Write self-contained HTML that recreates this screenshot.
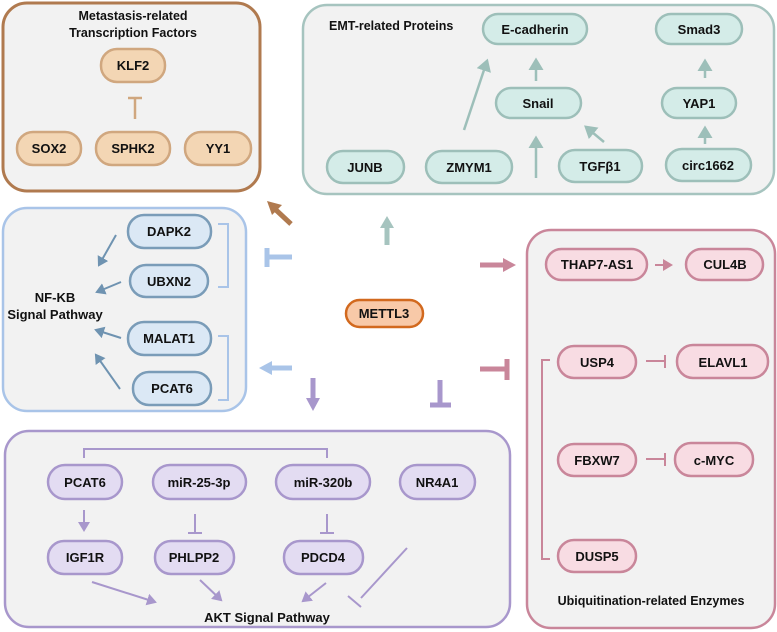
<!DOCTYPE html>
<html><head><meta charset="utf-8"><style>
html,body{margin:0;padding:0;background:#fff;}
svg{display:block;}
text{font-family:"Liberation Sans",sans-serif;font-weight:bold;fill:#111;}
</style></head><body>
<svg width="777" height="632" viewBox="0 0 777 632" xmlns="http://www.w3.org/2000/svg">
<defs>
<marker id="aT" markerWidth="6" markerHeight="6" refX="4" refY="3" orient="auto" markerUnits="strokeWidth"><path d="M0,0 L5,3 L0,6 z" fill="#9dbfb9"/></marker>
<marker id="aB" markerWidth="6" markerHeight="6" refX="4" refY="3" orient="auto" markerUnits="strokeWidth"><path d="M0,0 L5,3 L0,6 z" fill="#6f93b1"/></marker>
<marker id="aP" markerWidth="6" markerHeight="6" refX="4" refY="3" orient="auto" markerUnits="strokeWidth"><path d="M0,0 L5,3 L0,6 z" fill="#a897cc"/></marker>
<marker id="aR" markerWidth="6" markerHeight="6" refX="4" refY="3" orient="auto" markerUnits="strokeWidth"><path d="M0,0 L5,3 L0,6 z" fill="#c9869a"/></marker>
</defs>

<!-- Box 1 brown -->
<rect x="3" y="3" width="257" height="188" rx="24" fill="#f2f2f2" stroke="#b07a4f" stroke-width="3"/>
<text x="133" y="20" font-size="12.5" text-anchor="middle">Metastasis-related</text>
<text x="133" y="37" font-size="12.5" text-anchor="middle">Transcription Factors</text>
<g fill="#f3d6b4" stroke="#d0a77f" stroke-width="2.5">
<rect x="101" y="49" width="64" height="33" rx="16"/>
<rect x="17" y="132" width="64" height="33" rx="16"/>
<rect x="96" y="132" width="74" height="33" rx="16"/>
<rect x="185" y="132" width="66" height="33" rx="16"/>
</g>
<g font-size="13" text-anchor="middle">
<text x="133" y="70">KLF2</text><text x="49" y="153">SOX2</text><text x="133" y="153">SPHK2</text><text x="218" y="153">YY1</text>
</g>
<path d="M135,98 V119 M128,98 H142" stroke="#d0a77f" stroke-width="2.5" fill="none"/>

<!-- Box 2 teal -->
<rect x="303" y="5" width="471" height="189" rx="24" fill="#f2f2f2" stroke="#a6c4bf" stroke-width="2.5"/>
<text x="329" y="30" font-size="12.5">EMT-related Proteins</text>
<g fill="#d4ece8" stroke="#9dbfb9" stroke-width="2.5">
<rect x="483" y="14" width="104" height="30" rx="15"/>
<rect x="656" y="14" width="86" height="30" rx="15"/>
<rect x="496" y="88" width="85" height="30" rx="15"/>
<rect x="662" y="88" width="74" height="30" rx="15"/>
<rect x="327" y="151" width="77" height="32" rx="16"/>
<rect x="426" y="151" width="86" height="32" rx="16"/>
<rect x="559" y="150" width="83" height="32" rx="16"/>
<rect x="666" y="149" width="85" height="32" rx="16"/>
</g>
<g font-size="13" text-anchor="middle">
<text x="535" y="34">E-cadherin</text><text x="699" y="34">Smad3</text><text x="538" y="108">Snail</text><text x="699" y="108">YAP1</text>
<text x="365" y="172">JUNB</text><text x="469" y="172">ZMYM1</text><text x="600" y="171">TGFβ1</text><text x="708" y="170">circ1662</text>
</g>
<g stroke="#9dbfb9" stroke-width="2.5" fill="none" marker-end="url(#aT)">
<path d="M464,130 L487,61"/><path d="M536,81 V60"/><path d="M536,178 V138"/>
<path d="M604,142 L586,127"/><path d="M705,78 V61"/><path d="M705,144 V128"/>
</g>

<!-- Box 3 blue -->
<rect x="3" y="208" width="243" height="203" rx="24" fill="#f2f2f2" stroke="#a9c4e8" stroke-width="2.5"/>
<text x="55" y="302" font-size="13" text-anchor="middle">NF-KB</text>
<text x="55" y="319" font-size="13" text-anchor="middle">Signal Pathway</text>
<g fill="#dbe8f5" stroke="#7a9cb8" stroke-width="2.5">
<rect x="128" y="215" width="83" height="33" rx="16"/>
<rect x="130" y="265" width="78" height="32" rx="16"/>
<rect x="128" y="322" width="83" height="33" rx="16"/>
<rect x="133" y="372" width="78" height="33" rx="16"/>
</g>
<g font-size="13" text-anchor="middle">
<text x="169" y="236">DAPK2</text><text x="169" y="286">UBXN2</text><text x="169" y="343">MALAT1</text><text x="172" y="393">PCAT6</text>
</g>
<path d="M218,224 H228 V287 H218 M218,336 H228 V400 H218" stroke="#a9c4e8" stroke-width="2" fill="none"/>
<g stroke="#6f93b1" stroke-width="2" fill="none" marker-end="url(#aB)">
<path d="M116,235 L99,265"/><path d="M121,282 L97,292"/><path d="M121,338 L96,330"/><path d="M120,389 L96,355"/>
</g>

<!-- Center -->
<rect x="346" y="300" width="77" height="27" rx="13.5" fill="#f8c9a8" stroke="#d2691e" stroke-width="2.5"/>
<text x="384" y="318" font-size="13" text-anchor="middle">METTL3</text>
<path d="M291,224 L276,210" stroke="#b07a4f" stroke-width="5"/><path d="M267,201 L282,205 L272,215 z" fill="#b07a4f"/>
<path d="M387,245 V226" stroke="#a6c4bf" stroke-width="5"/><path d="M387,216 L380,228 L394,228 z" fill="#a6c4bf"/>
<path d="M267,248 V267 M267,257 H292" stroke="#a9c4e8" stroke-width="5"/>
<path d="M480,265 H504" stroke="#c9869a" stroke-width="5"/><path d="M516,265 L503,258 L503,272 z" fill="#c9869a"/>
<path d="M292,368 H272" stroke="#a9c4e8" stroke-width="5"/><path d="M259,368 L272,361 L272,375 z" fill="#a9c4e8"/>
<path d="M313,378 V400" stroke="#a897cc" stroke-width="5"/><path d="M313,411 L306,398 L320,398 z" fill="#a897cc"/>
<path d="M440,380 V405 M430,405 H451" stroke="#a897cc" stroke-width="5"/>
<path d="M480,369 H507 M507,359 V380" stroke="#c9869a" stroke-width="5"/>

<!-- Box 4 purple -->
<rect x="5" y="431" width="505" height="196" rx="24" fill="#f2f2f2" stroke="#a897cc" stroke-width="2.5"/>
<g fill="#e3dcf2" stroke="#a897cc" stroke-width="2.5">
<rect x="48" y="465" width="74" height="34" rx="17"/>
<rect x="153" y="465" width="93" height="34" rx="17"/>
<rect x="276" y="465" width="94" height="34" rx="17"/>
<rect x="400" y="465" width="75" height="34" rx="17"/>
<rect x="48" y="541" width="74" height="33" rx="16"/>
<rect x="155" y="541" width="79" height="33" rx="16"/>
<rect x="284" y="541" width="79" height="33" rx="16"/>
</g>
<g font-size="13" text-anchor="middle">
<text x="85" y="487">PCAT6</text><text x="199" y="487">miR-25-3p</text><text x="323" y="487">miR-320b</text><text x="437" y="487">NR4A1</text>
<text x="85" y="562">IGF1R</text><text x="194" y="562">PHLPP2</text><text x="323" y="562">PDCD4</text>
</g>
<text x="267" y="622" font-size="13" text-anchor="middle">AKT Signal Pathway</text>
<path d="M84,458 V449 H327 V458" stroke="#a897cc" stroke-width="2" fill="none"/>
<g stroke="#a897cc" stroke-width="2" fill="none">
<path d="M195,514 V533 M188,533 H202"/><path d="M327,514 V533 M320,533 H334"/>
<path d="M407,548 L361,598 M348,596 L361,607"/>
</g>
<g stroke="#a897cc" stroke-width="2" fill="none" marker-end="url(#aP)">
<path d="M84,510 V530"/><path d="M92,582 L155,602"/><path d="M200,580 L221,600"/><path d="M326,583 L303,601"/>
</g>

<!-- Box 5 pink -->
<rect x="527" y="230" width="248" height="398" rx="24" fill="#f2f2f2" stroke="#c9869a" stroke-width="2.5"/>
<g fill="#f8dce3" stroke="#c9869a" stroke-width="2.5">
<rect x="546" y="249" width="101" height="31" rx="15.5"/>
<rect x="686" y="249" width="77" height="31" rx="15.5"/>
<rect x="558" y="346" width="78" height="32" rx="16"/>
<rect x="677" y="345" width="91" height="33" rx="16"/>
<rect x="558" y="444" width="78" height="32" rx="16"/>
<rect x="675" y="443" width="78" height="33" rx="16"/>
<rect x="558" y="540" width="78" height="32" rx="16"/>
</g>
<g font-size="13" text-anchor="middle">
<text x="597" y="269">THAP7-AS1</text><text x="725" y="269">CUL4B</text>
<text x="597" y="367">USP4</text><text x="723" y="367">ELAVL1</text>
<text x="597" y="465">FBXW7</text><text x="714" y="465">c-MYC</text>
<text x="597" y="561">DUSP5</text>
</g>
<text x="651" y="605" font-size="12.5" text-anchor="middle">Ubiquitination-related Enzymes</text>
<path d="M550,360 H542 V559 H550" stroke="#c9869a" stroke-width="2" fill="none"/>
<path d="M655,265 H671" stroke="#c9869a" stroke-width="2" fill="none" marker-end="url(#aR)"/>
<g stroke="#c9869a" stroke-width="2" fill="none">
<path d="M646,361 H665 M665,355 V368"/><path d="M646,459 H665 M665,453 V466"/>
</g>
</svg>
</body></html>
